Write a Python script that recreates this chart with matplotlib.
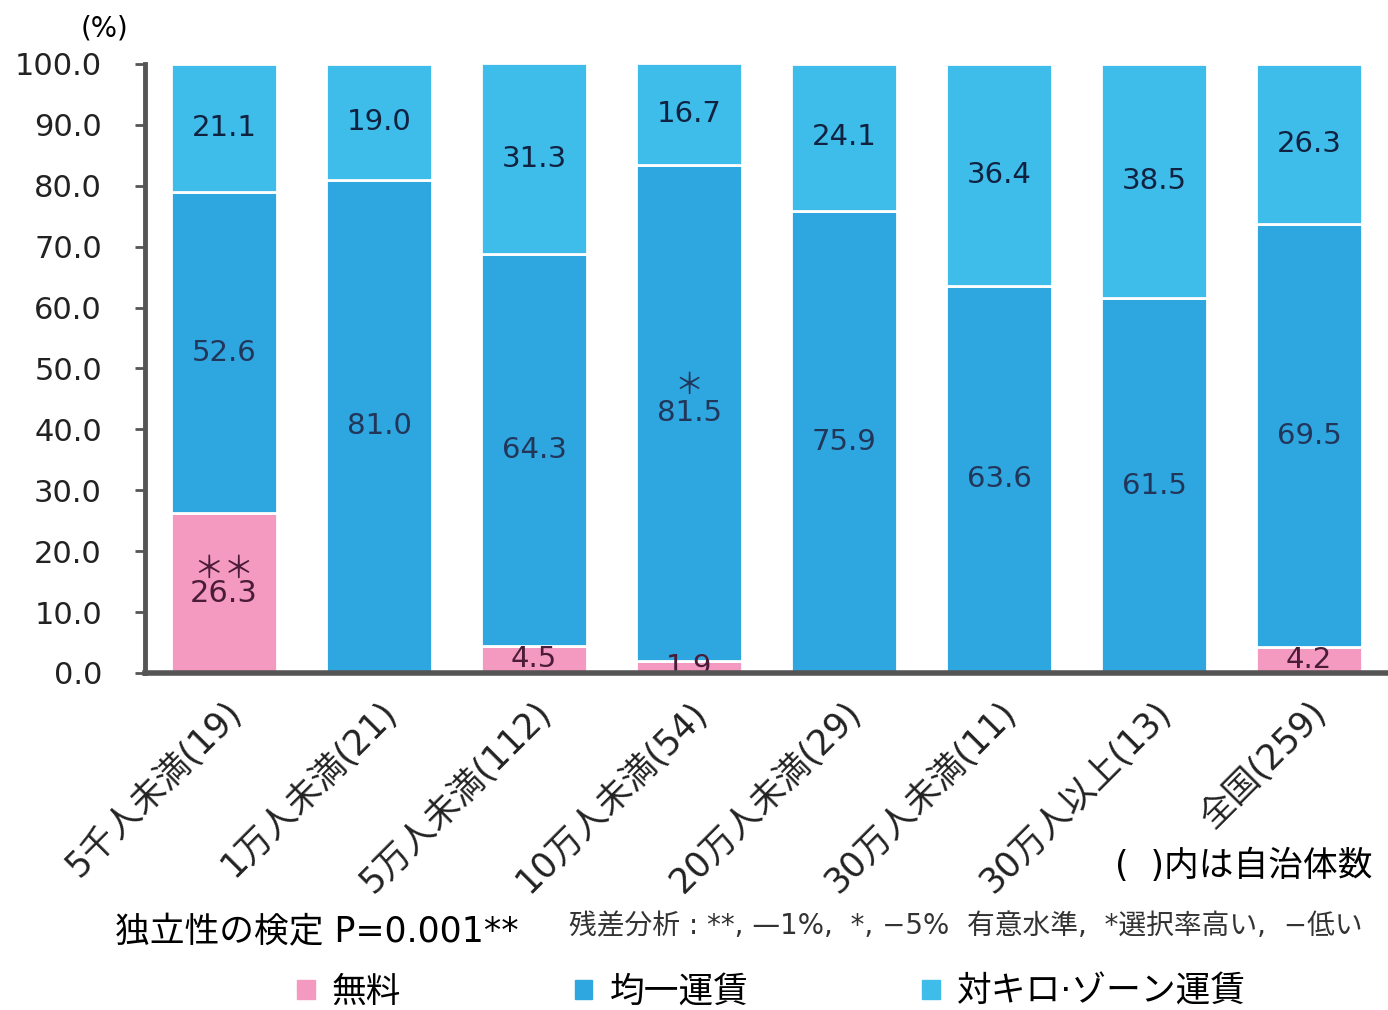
import numpy as np
import matplotlib
matplotlib.use("Agg")
import matplotlib.pyplot as plt
from matplotlib.patches import Patch

# DejaVu for latin/digits (wide, Meiryo-like), Noto CJK for Japanese
plt.rcParams['font.family'] = ['DejaVu Sans', 'Noto Sans CJK JP']

# data
categories = ["5千人未満(19)", "1万人未満(21)", "5万人未満(112)", "10万人未満(54)",
              "20万人未満(29)", "30万人未満(11)", "30万人以上(13)", "全国(259)"]
free      = [26.3, 0.0, 4.5, 1.9, 0.0, 0.0, 0.0, 4.2]
flat      = [52.6, 81.0, 64.3, 81.5, 75.9, 63.6, 61.5, 69.5]
per_km    = [21.1, 19.0, 31.3, 16.7, 24.1, 36.4, 38.5, 26.3]
marks_free = ["＊＊", "", "", "", "", "", "", ""]
marks_flat = ["", "", "", "＊", "", "", "", ""]
series_names = ["無料", "均一運賃", "対キロ·ゾーン運賃"]
yticks = np.arange(0, 101, 10)

C_FREE = "#F49AC1"
C_FLAT = "#2EA6DF"
C_KM   = "#3EBCEA"
TXT_PINK = "#4a1c38"
TXT_BLUE = "#22365a"

fig = plt.figure(figsize=(13.88, 10.10), dpi=100)
ax = fig.add_axes([0.1045, 0.3337, 0.8955, 0.603])

x = np.arange(len(categories))
w = 0.68
free_a = np.array(free)
flat_a = np.array(flat)
km_a = np.array(per_km)

ax.bar(x, free_a, w, color=C_FREE, edgecolor="white", linewidth=2)
ax.bar(x, flat_a, w, bottom=free_a, color=C_FLAT, edgecolor="white", linewidth=2)
ax.bar(x, km_a, w, bottom=free_a + flat_a, color=C_KM, edgecolor="white", linewidth=2)

fs_lbl = 21
for i in range(len(x)):
    if free_a[i] > 0:
        yc = free_a[i] / 2
        if marks_free[i]:
            # mark and value as one two-line label
            ax.text(x[i], yc + 1.9, f"{marks_free[i]}\n{free_a[i]:.1f}", ha="center",
                    va="center", fontsize=22, linespacing=0.8, color=TXT_PINK)
        else:
            ax.text(x[i], yc, f"{free_a[i]:.1f}", ha="center", va="center",
                    fontsize=fs_lbl, color=TXT_PINK, zorder=2)
    yc = free_a[i] + flat_a[i] / 2
    if marks_flat[i]:
        ax.text(x[i], yc + 2.3, f"{marks_flat[i]}\n{flat_a[i]:.1f}", ha="center",
                va="center", fontsize=fs_lbl, linespacing=0.95, color=TXT_BLUE)
    else:
        ax.text(x[i], yc, f"{flat_a[i]:.1f}", ha="center", va="center",
                fontsize=fs_lbl, color=TXT_BLUE)
    yc = free_a[i] + flat_a[i] + km_a[i] / 2
    ax.text(x[i], yc, f"{km_a[i]:.1f}", ha="center", va="center",
            fontsize=fs_lbl, color="#10223f")

ax.set_xlim(-0.51, 7.51)
ax.set_ylim(0, 100)
ax.set_yticks(yticks)
ax.set_yticklabels([f"{v:.1f}" for v in yticks], fontsize=22, color="#222222")
ax.set_xticks(x)
ax.set_xticklabels(categories, rotation=45, ha="right", va="top",
                   rotation_mode="anchor", fontsize=25, color="#222222")
ax.tick_params(axis="x", length=0, pad=16)
ax.tick_params(axis="y", length=7, width=2, color="#555555", pad=24)
for s in ["top", "right"]:
    ax.spines[s].set_visible(False)
ax.spines["left"].set_color("#555555")
ax.spines["left"].set_linewidth(3.5)
ax.spines["bottom"].set_color("#555555")
ax.spines["bottom"].set_linewidth(4)

fig.text(0.075, 0.972, "(%)", fontsize=20, ha="center", va="center")
fig.text(0.989, 0.143, "(  )内は自治体数", fontsize=25, ha="right", va="center")
fig.text(0.083, 0.077, "独立性の検定 P=0.001**", fontsize=25, ha="left", va="center")
fig.text(0.41, 0.083, "残差分析 : **, —1%,  *, −5%  有意水準,  *選択率高い,  −低い",
         fontsize=20, ha="left", va="center", color="#333333")

handles = [Patch(color=c) for c in (C_FREE, C_FLAT, C_KM)]
fig.legend(handles, series_names, loc="center", bbox_to_anchor=(0.556, 0.018),
           ncol=3, frameon=False, fontsize=25, handlelength=0.5, handleheight=0.5,
           handletextpad=0.5, columnspacing=5.0)

fig.savefig("out.png", dpi=100)
